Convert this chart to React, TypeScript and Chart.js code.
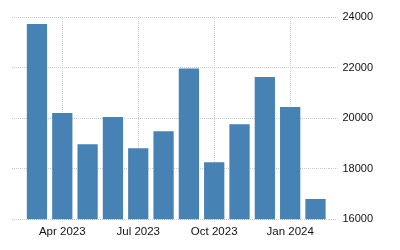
import React, { useEffect, useRef } from "react";
import { Chart, registerables } from "chart.js";

Chart.register(...registerables);

const months = ["Mar 2023", "Apr 2023", "May 2023", "Jun 2023", "Jul 2023", "Aug 2023", "Sep 2023", "Oct 2023", "Nov 2023", "Dec 2023", "Jan 2024", "Feb 2024"];
const values = [23720, 20200, 18970, 20040, 18810, 19480, 21960, 18250, 19760, 21630, 20440, 16800];
const tickMonths = [1, 4, 7, 10];
const yTicks = [16000, 18000, 20000, 22000, 24000];

export default function App() {
  const ref = useRef<HTMLCanvasElement | null>(null);
  useEffect(() => {
    document.body.style.margin = "0";
    const ctx = ref.current!;
    const chart = new Chart(ctx, {
      type: "bar",
      data: {
        datasets: [
          {
            data: values.map((v, i) => ({ x: i, y: v })),
            backgroundColor: "#4682B4",
            borderWidth: 0,
            barPercentage: 0.8,
            categoryPercentage: 1,
          },
        ],
      },
      options: {
        animation: false,
        responsive: false,
        maintainAspectRatio: false,
        layout: { padding: { left: 12, top: 17, right: 22, bottom: 9 } },
        plugins: { legend: { display: false }, tooltip: { enabled: false } },
        scales: {
          x: {
            type: "linear",
            min: -0.986,
            max: 11.55,
            offset: false,
            afterBuildTicks: (axis: any) => {
              axis.ticks = tickMonths.map((v) => ({ value: v }));
            },
            ticks: {
              callback: (v: any) => months[v as number],
              color: "#111",
              font: { family: "Liberation Sans, Arial", size: 11.5 },
              maxRotation: 0,
              autoSkip: false,
              padding: 2,
            },
            grid: { color: "#cccccc", offset: false, tickLength: 4, drawTicks: true, tickBorderDash: [1, 1] },
            border: { display: false, dash: [1, 1] },
          },
          y: {
            position: "right",
            min: 16000,
            max: 24000,
            afterBuildTicks: (axis: any) => {
              axis.ticks = yTicks.map((v) => ({ value: v }));
            },
            ticks: {
              color: "#111",
              font: { family: "Liberation Sans, Arial", size: 11 },
              padding: 5,
              callback: (v: any) => String(v),
            },
            grid: { color: "#cccccc", tickLength: 8, tickBorderDash: [1, 1] },
            border: { display: false, dash: [1, 1] },
          },
        },
      },
    });
    return () => chart.destroy();
  }, []);
  return (
    <div style={{ position: "absolute", left: 0, top: 0, width: 400, height: 250 }}>
      <canvas ref={ref} width={400} height={250} style={{ width: 400, height: 250 }} />
    </div>
  );
}
